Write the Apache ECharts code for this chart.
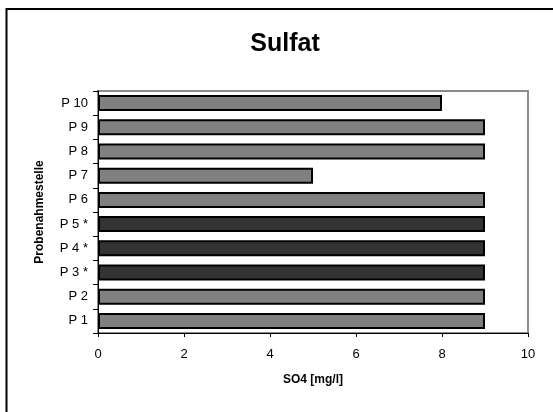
<!DOCTYPE html>
<html>
<head>
<meta charset="utf-8">
<script src="https://cdn.jsdelivr.net/npm/echarts@6/dist/echarts.min.js"></script>
<style>
html,body{margin:0;padding:0;background:#fff;}
#chart{width:553px;height:412px;}
</style>
</head>
<body>
<div id="chart"></div>
<script>
var categories = ['P 1', 'P 2', 'P 3 *', 'P 4 *', 'P 5 *', 'P 6', 'P 7', 'P 8', 'P 9', 'P 10'];
var values = [9, 9, 9, 9, 9, 9, 5, 9, 9, 8];
var xTicks = [0, 2, 4, 6, 8, 10];

var FONT = '"Liberation Sans", Arial, sans-serif';
var chart = echarts.init(document.getElementById('chart'), null, {renderer: 'canvas'});

var data = values.map(function (v, i) {
  var marked = categories[i].indexOf('*') >= 0;
  return {value: v, itemStyle: {color: marked ? '#333333' : '#808080'}};
});

chart.setOption({
  animation: false,
  backgroundColor: '#ffffff',
  title: {
    text: 'Sulfat',
    left: 280, top: 27, textAlign: 'center',
    textStyle: {fontFamily: FONT, fontSize: 25, fontWeight: 'bold', color: '#000'}
  },
  graphic: [{
    type: 'rect', shape: {x: 6.5, y: 9, width: 600, height: 500},
    style: {fill: 'none', stroke: '#000', lineWidth: 2}, silent: true
  }],
  grid: {
    left: 98, top: 91, width: 430, height: 242,
    show: true, borderColor: '#8c8c8c', borderWidth: 2, backgroundColor: '#fff'
  },
  xAxis: {
    type: 'value', min: 0, max: 10, interval: 2,
    name: 'SO4 [mg/l]', nameLocation: 'middle', nameGap: 41,
    nameTextStyle: {fontFamily: FONT, fontSize: 12, fontWeight: 'bold', color: '#000'},
    axisLine: {show: true, lineStyle: {color: '#000', width: 1}},
    axisTick: {show: true, length: 4, lineStyle: {color: '#000'}},
    axisLabel: {fontFamily: FONT, fontSize: 13, color: '#000', margin: 15,
      formatter: function (v) { return xTicks.indexOf(v) >= 0 ? String(v) : ''; }},
    splitLine: {show: false}
  },
  yAxis: {
    type: 'category', data: categories,
    name: 'Probenahmestelle', nameLocation: 'middle', nameGap: 52, nameRotate: 90,
    nameTextStyle: {fontFamily: FONT, fontSize: 12, fontWeight: 'bold', color: '#000'},
    axisLine: {show: true, lineStyle: {color: '#000', width: 1}},
    axisTick: {show: true, length: 5, alignWithLabel: false, lineStyle: {color: '#000'}},
    axisLabel: {fontFamily: FONT, fontSize: 13, color: '#000', margin: 10},
    splitLine: {show: false}
  },
  series: [{
    type: 'bar', data: data, barCategoryGap: '34%',
    itemStyle: {borderColor: '#000', borderWidth: 2}
  }]
});
</script>
</body>
</html>
